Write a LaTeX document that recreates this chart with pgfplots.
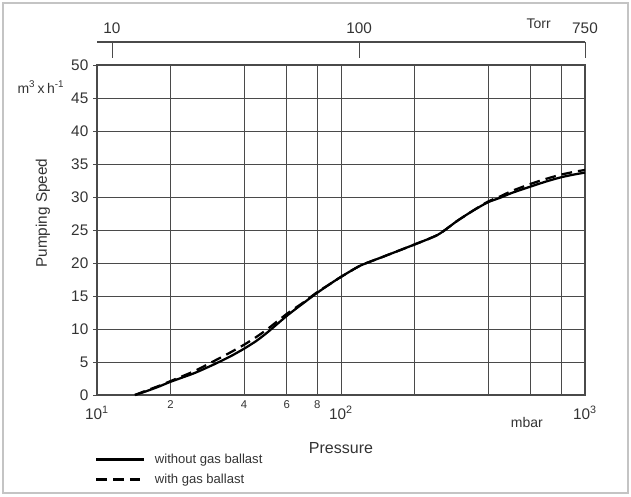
\documentclass[border=0pt]{standalone}
\usepackage{pgfplots}
\pgfplotsset{compat=1.18}
\usepackage{fontspec}
\setmainfont{Liberation Sans}
\definecolor{txt}{HTML}{333333}
\definecolor{gridc}{HTML}{4A4A4A}
\definecolor{framec}{HTML}{C4C4C4}

\begin{document}
\begin{tikzpicture}
\begin{axis}[
  at={(0,0)}, anchor=south west,
  scale only axis, width=366pt, height=247.5pt,
  xmode=log, log basis x=10,
  xmin=10, xmax=1000, ymin=0, ymax=50,
  clip=false,
  xtick={10,20,40,60,80,100,200,400,600,800,1000},
  xticklabels={{10\textsuperscript{1}},
               {\raisebox{8pt}{\fontsize{8.5}{9}\selectfont 2}},
               {\raisebox{8pt}{\fontsize{8.5}{9}\selectfont 4}},
               {\raisebox{8pt}{\fontsize{8.5}{9}\selectfont 6}},
               {\raisebox{8pt}{\fontsize{8.5}{9}\selectfont 8}},
               {10\textsuperscript{2}},
               {},{},{},{},
               {10\textsuperscript{3}}},
  xticklabel style={text=txt, font=\fontsize{11.5}{12}\selectfont, anchor=base, yshift=-15.3pt},
  ytick={0,5,...,50},
  yticklabel style={text=txt, font=\fontsize{11.5}{13}\selectfont},
  /pgf/number format/assume math mode=true,
  grid=major,
  major grid style={gridc, line width=0.6pt},
  axis line style={gridc, line width=0.8pt},
  tick pos=left, tick align=outside,
  major tick length=3pt,
  xtick style={draw=none},
  ytick style={gridc, line width=0.6pt},
  legend style={at={(axis description cs:-0.004,-0.169)}, anchor=north west,
    draw=none, fill=none, inner sep=0pt, row sep=2.5pt,
    font=\fontsize{9.8}{10}\selectfont, text=txt,
    /tikz/every odd column/.append style={column sep=5pt}},
  legend cell align=left,
  legend image code/.code={\draw[#1] (0pt,0pt) -- (36pt,0pt);},
]
\addplot[black, line width=1.7pt, smooth, tension=0.4] coordinates {
 (14.3,0) (16,0.6) (18,1.3) (20,2.0) (25,3.3) (30,4.6) (35,5.8) (40,7.0)
 (45,8.2) (50,9.5) (60,12.0) (70,13.9) (80,15.5) (90,16.8) (100,17.9)
 (120,19.6) (150,21.0) (200,22.8) (250,24.3) (300,26.4) (350,28.0)
 (400,29.2) (450,29.9) (500,30.6) (600,31.6) (700,32.4) (800,33.0)
 (900,33.4) (1000,33.7)};
\addlegendentry{without gas ballast}
\addplot[black, line width=1.7pt, smooth, tension=0.4, dash pattern=on 8pt off 4.5pt] coordinates {
 (14.3,0) (16,0.7) (18,1.4) (20,2.1) (25,3.6) (30,5.1) (35,6.4) (40,7.6)
 (45,8.8) (50,10.0) (60,12.3) (70,14.0) (80,15.6) (90,16.8) (100,17.9)
 (120,19.6) (150,21.0) (200,22.8) (250,24.3) (300,26.4) (350,28.0)
 (400,29.3) (450,30.1) (500,30.9) (600,32.0) (700,32.8) (800,33.4)
 (900,33.8) (1000,34.1)};
\addlegendentry{with gas ballast}

% top Torr scale
\draw[gridc, line width=0.8pt] (axis description cs:0,1.0697) -- (axis description cs:1,1.0697);
\draw[gridc, line width=0.6pt] (axis description cs:0.0307,1.0697) -- (axis description cs:0.0307,1.0212);
\draw[gridc, line width=0.6pt] (axis description cs:0.537,1.0697) -- (axis description cs:0.537,1.0212);
\draw[gridc, line width=0.6pt] (axis description cs:1,1.0697) -- (axis description cs:1,1.0212);
\node[text=txt, font=\fontsize{11.5}{12}\selectfont] at (axis description cs:0.0307,1.112) {10};
\node[text=txt, font=\fontsize{11.5}{12}\selectfont] at (axis description cs:0.537,1.112) {100};
\node[text=txt, font=\fontsize{11.5}{12}\selectfont] at (axis description cs:1,1.112) {750};
\node[text=txt, font=\fontsize{10.5}{12}\selectfont] at (axis description cs:0.905,1.126) {Torr};
\node[text=txt, font=\fontsize{10.5}{12}\selectfont] at (axis description cs:-0.115,0.933) {m\textsuperscript{3}\,x\,h\textsuperscript{-1}};
\node[text=txt, font=\fontsize{11.5}{13}\selectfont, rotate=90] at (axis description cs:-0.1107,0.5515) {Pumping Speed};
\node[text=txt, font=\fontsize{12}{13}\selectfont] at (axis description cs:0.5,-0.1606) {Pressure};
\node[text=txt, font=\fontsize{10.5}{12}\selectfont] at (axis description cs:0.881,-0.0848) {mbar};
\end{axis}
\draw[framec, line width=1.5pt] (-70.5pt,-73.5pt) rectangle (398.25pt,294pt);
\path (-72.75pt,-75.75pt) rectangle (400.5pt,296.25pt);
\end{tikzpicture}
\end{document}
